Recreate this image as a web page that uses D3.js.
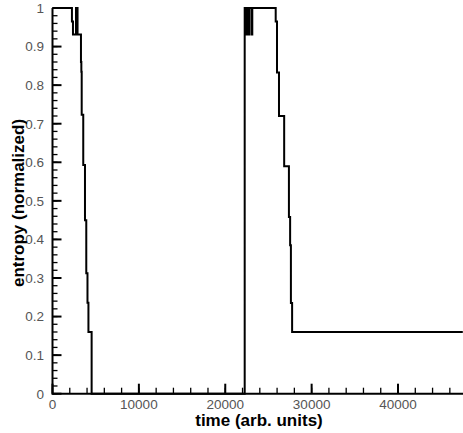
<!DOCTYPE html>
<html><head><meta charset="utf-8">
<script src="https://cdn.jsdelivr.net/npm/d3@7"></script>
<style>html,body{margin:0;padding:0;background:#fff;}svg{display:block;}</style>
</head><body>
<svg id="c" width="463" height="433"></svg>
<script>
// step data (value holds from each time until the next)
const time = [0, 2250, 2370, 2720, 2900, 3295, 3340, 3380, 3560, 3760, 3910, 4050, 4160, 4530,
  22250, 22340, 22420, 22500, 22580, 22720, 22790, 23060, 23130,
  25840, 25990, 26220, 26820, 27370, 27510, 27600, 27740, 47500];
const entropy = [1, 0.965, 0.931, 1, 0.931, 0.86, 0.835, 0.723, 0.593, 0.45, 0.3125, 0.236, 0.16, 0,
  1, 0.931, 1, 0.931, 1, 0.931, 1, 0.931, 1,
  0.965, 0.833, 0.72, 0.59, 0.458, 0.385, 0.235, 0.16, 0.16];
const xMajor = [0, 10000, 20000, 30000, 40000];
const xMinor = d3.range(0, 47000, 2000);
const yMajor = [0, 0.1, 0.2, 0.3, 0.4, 0.5, 0.6, 0.7, 0.8, 0.9, 1];
const yMinor = d3.range(0, 1.001, 0.02);
const xTitle = "time (arb. units)";
const yTitle = "entropy (normalized)";

const svg = d3.select("#c");
const x = d3.scaleLinear().domain([0, 47500]).range([52.5, 462.8]);
const y = d3.scaleLinear().domain([0, 1]).range([393.7, 8]);

const data = time.map((t, i) => [t, entropy[i]]);
const line = d3.line().x(d => x(d[0])).y(d => y(d[1])).curve(d3.curveStepAfter);
svg.append("path").attr("d", line(data)).attr("fill", "none")
  .attr("stroke", "#000").attr("stroke-width", 2).attr("stroke-linejoin", "miter");

// minor ticks
svg.append("g").selectAll("line").data(xMinor).join("line")
  .attr("x1", d => x(d)).attr("x2", d => x(d)).attr("y1", y(0)).attr("y2", y(0) - 6)
  .attr("stroke", "#000").attr("stroke-width", 1.3);
svg.append("g").selectAll("line").data(yMinor).join("line")
  .attr("x1", x(0)).attr("x2", x(0) + 5).attr("y1", d => y(d)).attr("y2", d => y(d))
  .attr("stroke", "#000").attr("stroke-width", 1.3);
// major ticks
svg.append("g").selectAll("line").data(xMajor).join("line")
  .attr("x1", d => x(d)).attr("x2", d => x(d)).attr("y1", y(0)).attr("y2", y(0) - 10)
  .attr("stroke", "#000").attr("stroke-width", 2);
svg.append("g").selectAll("line").data(yMajor).join("line")
  .attr("x1", x(0)).attr("x2", x(0) + 9).attr("y1", d => y(d)).attr("y2", d => y(d))
  .attr("stroke", "#000").attr("stroke-width", 2);

// axis lines
svg.append("line").attr("x1", x(0)).attr("x2", 463).attr("y1", y(0)).attr("y2", y(0))
  .attr("stroke", "#000").attr("stroke-width", 2);
svg.append("line").attr("x1", x(0)).attr("x2", x(0)).attr("y1", y(0) + 1).attr("y2", y(1))
  .attr("stroke", "#000").attr("stroke-width", 2);

const fmt = d => String(+d.toFixed(1));
svg.append("g").selectAll("text").data(yMajor).join("text")
  .attr("x", 44).attr("y", d => y(d)).attr("dy", "0.36em").attr("text-anchor", "end")
  .attr("font-family", "Liberation Sans, Arial, sans-serif").attr("font-size", 13.5)
  .attr("fill", "#555").text(fmt);
svg.append("g").selectAll("text").data(xMajor).join("text")
  .attr("x", d => x(d)).attr("y", 408.5).attr("text-anchor", "middle")
  .attr("font-family", "Liberation Sans, Arial, sans-serif").attr("font-size", 13.5)
  .attr("fill", "#555").text(d => String(d));

svg.append("text").attr("x", 259).attr("y", 426).attr("text-anchor", "middle")
  .attr("font-family", "Liberation Sans, Arial, sans-serif").attr("font-weight", "bold")
  .attr("font-size", 17).attr("fill", "#000").text(xTitle);
svg.append("text").attr("transform", "translate(24,203) rotate(-90)").attr("text-anchor", "middle")
  .attr("font-family", "Liberation Sans, Arial, sans-serif").attr("font-weight", "bold")
  .attr("font-size", 17).attr("fill", "#000").text(yTitle);
</script>
</body></html>
